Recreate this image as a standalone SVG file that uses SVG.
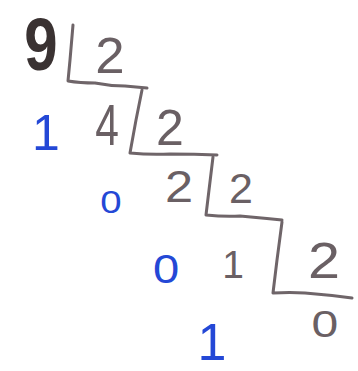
<svg xmlns="http://www.w3.org/2000/svg" width="358" height="371" viewBox="0 0 358 371">
  <style>
    .ln { fill: none; stroke: #6f6569; stroke-width: 3; stroke-linecap: round; stroke-linejoin: round; }
    .g { font-family: "Liberation Sans", Arial, sans-serif; fill: #6a6064; text-anchor: middle; }
    .b { font-family: "Liberation Sans", Arial, sans-serif; fill: #2448d6; text-anchor: middle; }
    .k { font-family: "Liberation Sans", Arial, sans-serif; fill: #3a3232; text-anchor: middle; font-weight: bold; }
  </style>
  <rect width="358" height="371" fill="#ffffff"/>
  <g id="connectors">
    <path class="ln" d="M73,25 L70,60 L68,81 Q80,83 95,83 Q110,86 125,86 L147,88"/>
    <path class="ln" d="M142,90 L136,120 L130,153 Q150,155 170,154 Q195,154 217,155"/>
    <path class="ln" d="M213,157 L209,190 L206,215 Q225,217 240,216 Q262,218 282,220"/>
    <path class="ln" d="M282,222 L277,260 L273,293 Q290,292 305,293 Q330,295 352,298"/>
  </g>
  <g id="dividend-9"><text class="k" font-size="60" transform="translate(41,70) scale(1,1.22)">9</text></g>
  <g id="divisor-1"><text class="g" font-size="48" transform="translate(110,73) scale(1.1,1.03)">2</text></g>
  <g id="remainder-1"><text class="b" font-size="50" x="46" y="150">1</text></g>
  <g id="quotient-4"><text class="g" font-size="50" transform="translate(107,145) scale(0.85,1.15)">4</text></g>
  <g id="divisor-2"><text class="g" font-size="50" x="170" y="145">2</text></g>
  <g id="remainder-2"><text class="b" font-size="32" transform="translate(111,213) scale(1.2,1)">0</text></g>
  <g id="quotient-2"><text class="g" font-size="44" transform="translate(179,202) scale(1.15,1)">2</text></g>
  <g id="divisor-3"><text class="g" font-size="43" x="241" y="203">2</text></g>
  <g id="remainder-3"><text class="b" font-size="41" transform="translate(166,283) scale(1.15,1)">0</text></g>
  <g id="quotient-1"><text class="g" font-size="39" x="233" y="278">1</text></g>
  <g id="divisor-4"><text class="g" font-size="50" transform="translate(324,278) scale(1.15,1)">2</text></g>
  <g id="quotient-0"><text class="g" font-size="37" transform="translate(325,337) scale(1.3,1)">0</text></g>
  <g id="remainder-4"><text class="b" font-size="52" x="212" y="360">1</text></g>
</svg>
